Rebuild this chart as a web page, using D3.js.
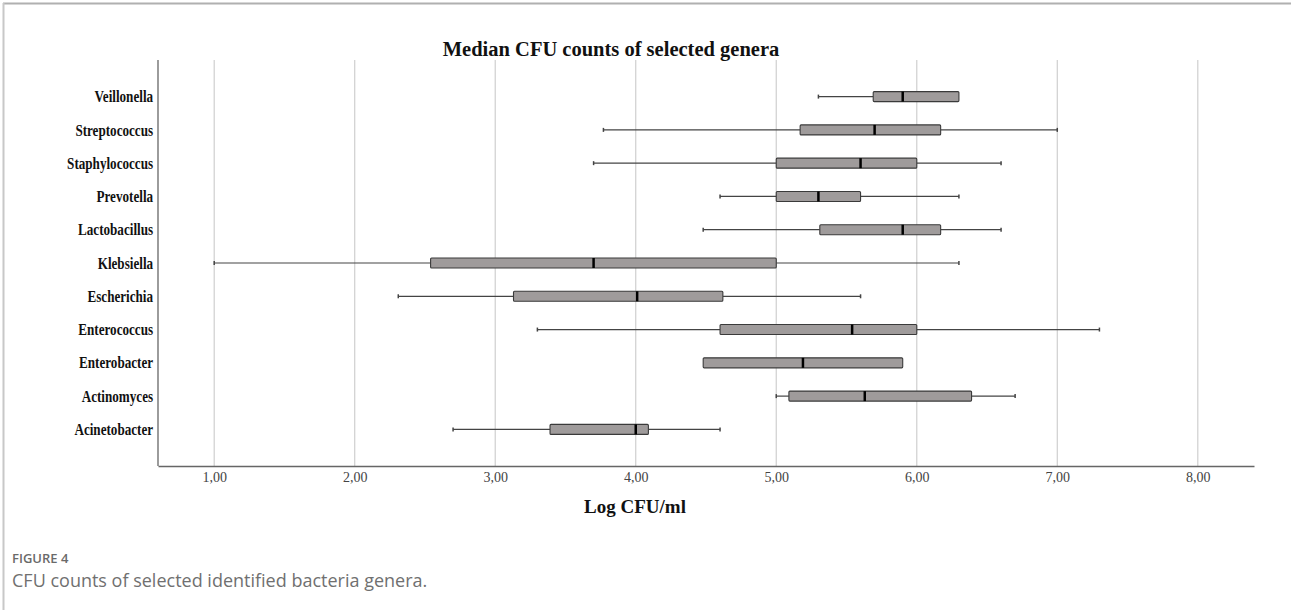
<!DOCTYPE html>
<html>
<head>
<meta charset="utf-8">
<script src="https://cdn.jsdelivr.net/npm/d3@7"></script>
<style>
  body { margin: 0; background: #fff; }
</style>
</head>
<body>
<div class="canvas"></div>
<script>
// genera, top to bottom
const genera = ['Veillonella','Streptococcus','Staphylococcus','Prevotella','Lactobacillus','Klebsiella','Escherichia','Enterococcus','Enterobacter','Actinomyces','Acinetobacter'];
const minVals = [5.30, 3.77, 3.70, 4.60, 4.48, 1.00, 2.31, 3.30, 4.48, 5.00, 2.70];
const q1Vals  = [5.69, 5.17, 5.00, 5.00, 5.31, 2.54, 3.13, 4.60, 4.48, 5.09, 3.39];
const medVals = [5.90, 5.70, 5.60, 5.30, 5.90, 3.70, 4.01, 5.54, 5.19, 5.63, 4.00];
const q3Vals  = [6.30, 6.17, 6.00, 5.60, 6.17, 5.00, 4.62, 6.00, 5.90, 6.39, 4.09];
const maxVals = [6.30, 7.00, 6.60, 6.30, 6.60, 6.30, 5.60, 7.30, 5.90, 6.70, 4.60];
const xTicks = [1, 2, 3, 4, 5, 6, 7, 8];

const data = genera.map((g, i) => ({
    name: g, min: minVals[i], q1: q1Vals[i], med: medVals[i], q3: q3Vals[i], max: maxVals[i]
}));

const W = 1291, H = 610;
const serif = '"Liberation Serif", "Times New Roman", serif';
const svg = d3.select('.canvas')
  .append('svg')
    .attr('width', W)
    .attr('height', H);

// page frame
svg.append('line').attr('x1', 3).attr('x2', W).attr('y1', 3.5).attr('y2', 3.5)
    .attr('stroke', '#b0b0b0').attr('stroke-width', 2);
svg.append('line').attr('x1', 3.5).attr('x2', 3.5).attr('y1', 3).attr('y2', H)
    .attr('stroke', '#c8c8c8').attr('stroke-width', 2);

const plot = {left: 158, right: 1254, top: 60, bottom: 466};

const x = d3.scaleLinear()
    .domain([0.6, 8.4])
    .range([plot.left, plot.right]);

const y = d3.scalePoint()
    .domain(genera)
    .range([plot.top, plot.bottom])
    .padding(1.1);

// gridlines
svg.append('g')
  .selectAll('line')
  .data(xTicks)
  .enter()
  .append('line')
    .attr('x1', d => x(d)).attr('x2', d => x(d))
    .attr('y1', plot.top).attr('y2', plot.bottom)
    .attr('stroke', '#cfcfcf')
    .attr('stroke-width', 1.2);

// x axis
const xAxis = d3.axisBottom(x)
    .tickValues(xTicks)
    .tickSize(0)
    .tickPadding(6)
    .tickFormat(d => d3.format('.2f')(d).replace('.', ','));

const xAxisGroup = svg.append('g')
    .attr('transform', `translate(0,${plot.bottom})`)
    .call(xAxis);
xAxisGroup.select('.domain').attr('stroke', '#666').attr('stroke-width', 1.3);
xAxisGroup.selectAll('text')
    .attr('font-family', serif)
    .attr('font-size', 14)
    .attr('fill', '#444');

// y axis
const yAxis = d3.axisLeft(y).tickSize(0).tickPadding(6);
const yAxisGroup = svg.append('g')
    .attr('transform', `translate(${plot.left},0)`)
    .call(yAxis);
yAxisGroup.select('.domain')
    .attr('d', `M0,${plot.top}V${plot.bottom}`)
    .attr('stroke', '#666').attr('stroke-width', 1.3);
yAxisGroup.selectAll('text')
    .attr('font-family', serif)
    .attr('font-size', 16)
    .attr('font-weight', 'bold')
    .attr('fill', '#111')
    .attr('transform', 'scale(0.82,1)');

// boxes
const boxH = 10, capH = 4;
const boxes = svg.append('g')
  .selectAll('g')
  .data(data)
  .enter()
  .append('g')
    .attr('transform', d => `translate(0,${y(d.name)})`);

boxes.append('line')
    .attr('x1', d => x(d.min)).attr('x2', d => x(d.q1))
    .attr('stroke', '#444').attr('stroke-width', 1.2);
boxes.append('line')
    .attr('x1', d => x(d.q3)).attr('x2', d => x(d.max))
    .attr('stroke', '#444').attr('stroke-width', 1.2);
boxes.filter(d => d.min < d.q1).append('line')
    .attr('x1', d => x(d.min)).attr('x2', d => x(d.min))
    .attr('y1', -capH / 2).attr('y2', capH / 2)
    .attr('stroke', '#444').attr('stroke-width', 1.5);
boxes.filter(d => d.max > d.q3).append('line')
    .attr('x1', d => x(d.max)).attr('x2', d => x(d.max))
    .attr('y1', -capH / 2).attr('y2', capH / 2)
    .attr('stroke', '#444').attr('stroke-width', 1.5);
boxes.append('rect')
    .attr('x', d => x(d.q1))
    .attr('y', -boxH / 2)
    .attr('width', d => x(d.q3) - x(d.q1))
    .attr('height', boxH)
    .attr('rx', 1)
    .attr('fill', '#9f9b9b')
    .attr('stroke', '#3a3a3a')
    .attr('stroke-width', 1.1);
boxes.append('line')
    .attr('x1', d => x(d.med)).attr('x2', d => x(d.med))
    .attr('y1', -boxH / 2).attr('y2', boxH / 2)
    .attr('stroke', '#000').attr('stroke-width', 2.5);

// title
svg.append('text')
    .attr('x', 611).attr('y', 56)
    .attr('text-anchor', 'middle')
    .attr('font-family', serif)
    .attr('font-size', 20.5)
    .attr('font-weight', 'bold')
    .attr('fill', '#111')
    .text('Median CFU counts of selected genera');

// axis title
svg.append('text')
    .attr('x', 635).attr('y', 513)
    .attr('text-anchor', 'middle')
    .attr('font-family', serif)
    .attr('font-size', 19)
    .attr('font-weight', 'bold')
    .attr('fill', '#111')
    .text('Log CFU/ml');

// caption
svg.append('text')
    .attr('x', 12).attr('y', 563)
    .attr('font-family', '"Open Sans", sans-serif')
    .attr('font-size', 13)
    .attr('font-weight', 600)
    .attr('fill', '#6a6a6a')
    .text('FIGURE 4');
svg.append('text')
    .attr('x', 12).attr('y', 587)
    .attr('font-family', '"Open Sans", sans-serif')
    .attr('font-size', 18)
    .attr('fill', '#707070')
    .text('CFU counts of selected identified bacteria genera.');
</script>
</body>
</html>
